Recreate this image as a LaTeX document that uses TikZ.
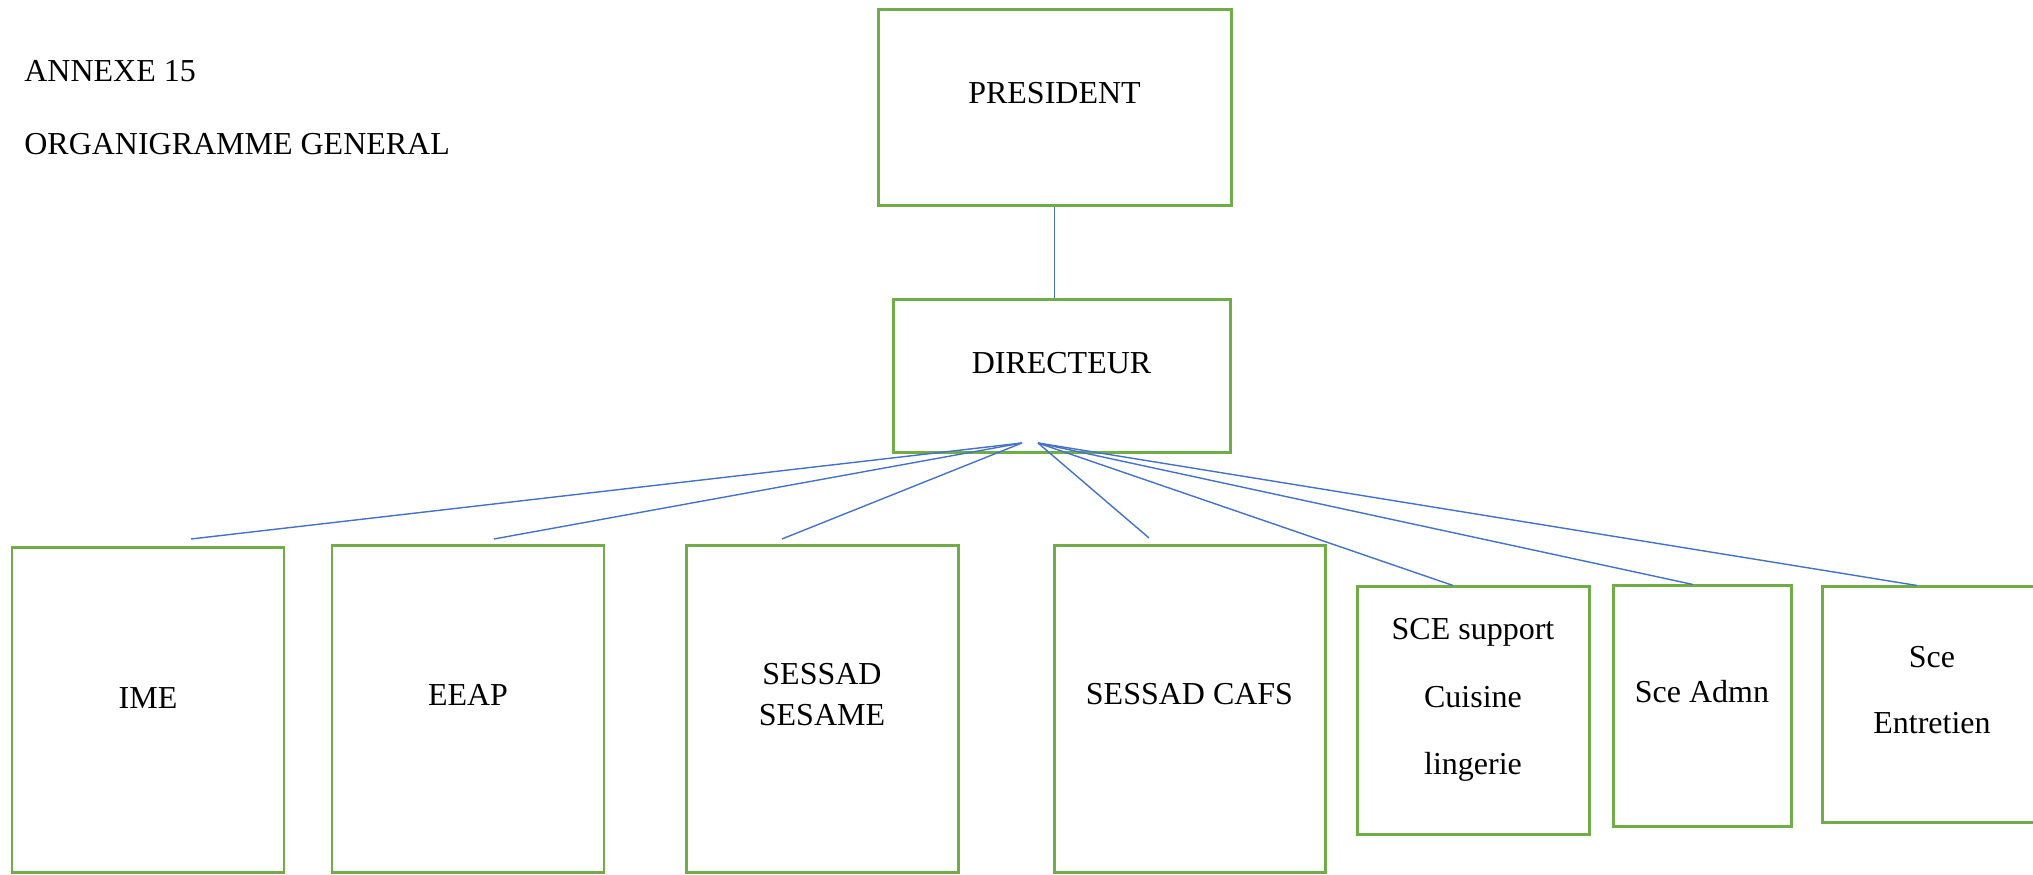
\documentclass[tikz,border=0pt]{standalone}
\usepackage{fontspec}
\setmainfont{Liberation Serif}
\usetikzlibrary{calc,positioning}
\definecolor{boxgreen}{HTML}{70AD47}
\definecolor{tieblue}{HTML}{4472C4}
\tikzset{
	unit/.style={draw=boxgreen, line width=1.7pt, inner sep=0pt, fill=white},
	boxtext/.style={yshift=0.3cm, align=center, inner sep=0pt},
	tie/.style={draw=tieblue, line width=0.8pt}
}

\begin{document}
\begin{tikzpicture}[font=\fontsize{18.2}{23.8}\selectfont]
	\path[use as bounding box, clip] (0,0) rectangle (40.66,17.5);

	% Title lines, top left
	\node[anchor=base west, inner sep=0pt] (annexe) at (0.48,15.86) {ANNEXE 15};
	\node[anchor=base west, inner sep=0pt] (title) at (0.48,14.41) {ORGANIGRAMME GENERAL};

	% Head of the chart
	\node[unit, minimum width=7.06cm, minimum height=3.92cm, label={[boxtext]center:PRESIDENT}] (pres) at (21.09,15.34) {};
	\node[unit, minimum width=6.74cm, minimum height=3.06cm, label={[boxtext, yshift=-0.04cm]center:DIRECTEUR}] (dir) at (21.23,9.97) {};
	\draw[tie] (pres.south) -- (pres.south |- dir.north);

	% Services
	\node[unit, minimum width=5.44cm, minimum height=6.5cm, label={[boxtext, yshift=-0.05cm]center:IME}] (ime) at (2.96,3.29) {};
	\node[unit, minimum width=5.44cm, minimum height=6.54cm, label={[boxtext]center:EEAP}] (eeap) at (9.36,3.31) {};
	\node[unit, minimum width=5.44cm, minimum height=6.54cm, label={[boxtext]center:{SESSAD\\SESAME}}] (sesame) at (16.44,3.31) {};
	\node[unit, minimum width=5.42cm, minimum height=6.54cm, label={[boxtext]center:SESSAD CAFS}] (cafs) at (23.79,3.31) {};
	\node[unit, minimum width=4.64cm, minimum height=4.96cm, label={[boxtext, yshift=-0.08cm]center:{SCE support\\[0.52cm]Cuisine\\[0.52cm]lingerie}}] (support) at (29.46,3.28) {};
	\node[unit, minimum width=3.56cm, minimum height=4.82cm, label={[boxtext]center:Sce Admn}] (admn) at (34.04,3.37) {};
	\node[unit, minimum width=4.4cm, minimum height=4.72cm, label={[boxtext]center:{Sce\\[0.47cm]Entretien}}] (entretien) at (38.64,3.40) {};

	% Fan of links out of the director box
	\coordinate (hubA) at (20.44,8.64);
	\coordinate (hubB) at (20.76,8.64);
	\coordinate (imeT) at (3.82,6.72);
	\coordinate (eeapT) at (9.88,6.72);
	\coordinate (sesameT) at (15.64,6.72);
	\coordinate (cafsT) at (22.98,6.74);

	\draw[tie] (hubA) -- (imeT);
	\draw[tie] (hubA) -- (eeapT);
	\draw[tie] (hubA) -- (sesameT);
	\draw[tie] (hubB) -- (cafsT);
	\draw[tie] (hubB) -- ($(support.north)+(-0.4,0)$);
	\draw[tie] (hubB) -- ($(admn.north)+(-0.18,0)$);
	\draw[tie] (hubB) -- ($(entretien.north)+(-0.3,0)$);
\end{tikzpicture}
\end{document}
